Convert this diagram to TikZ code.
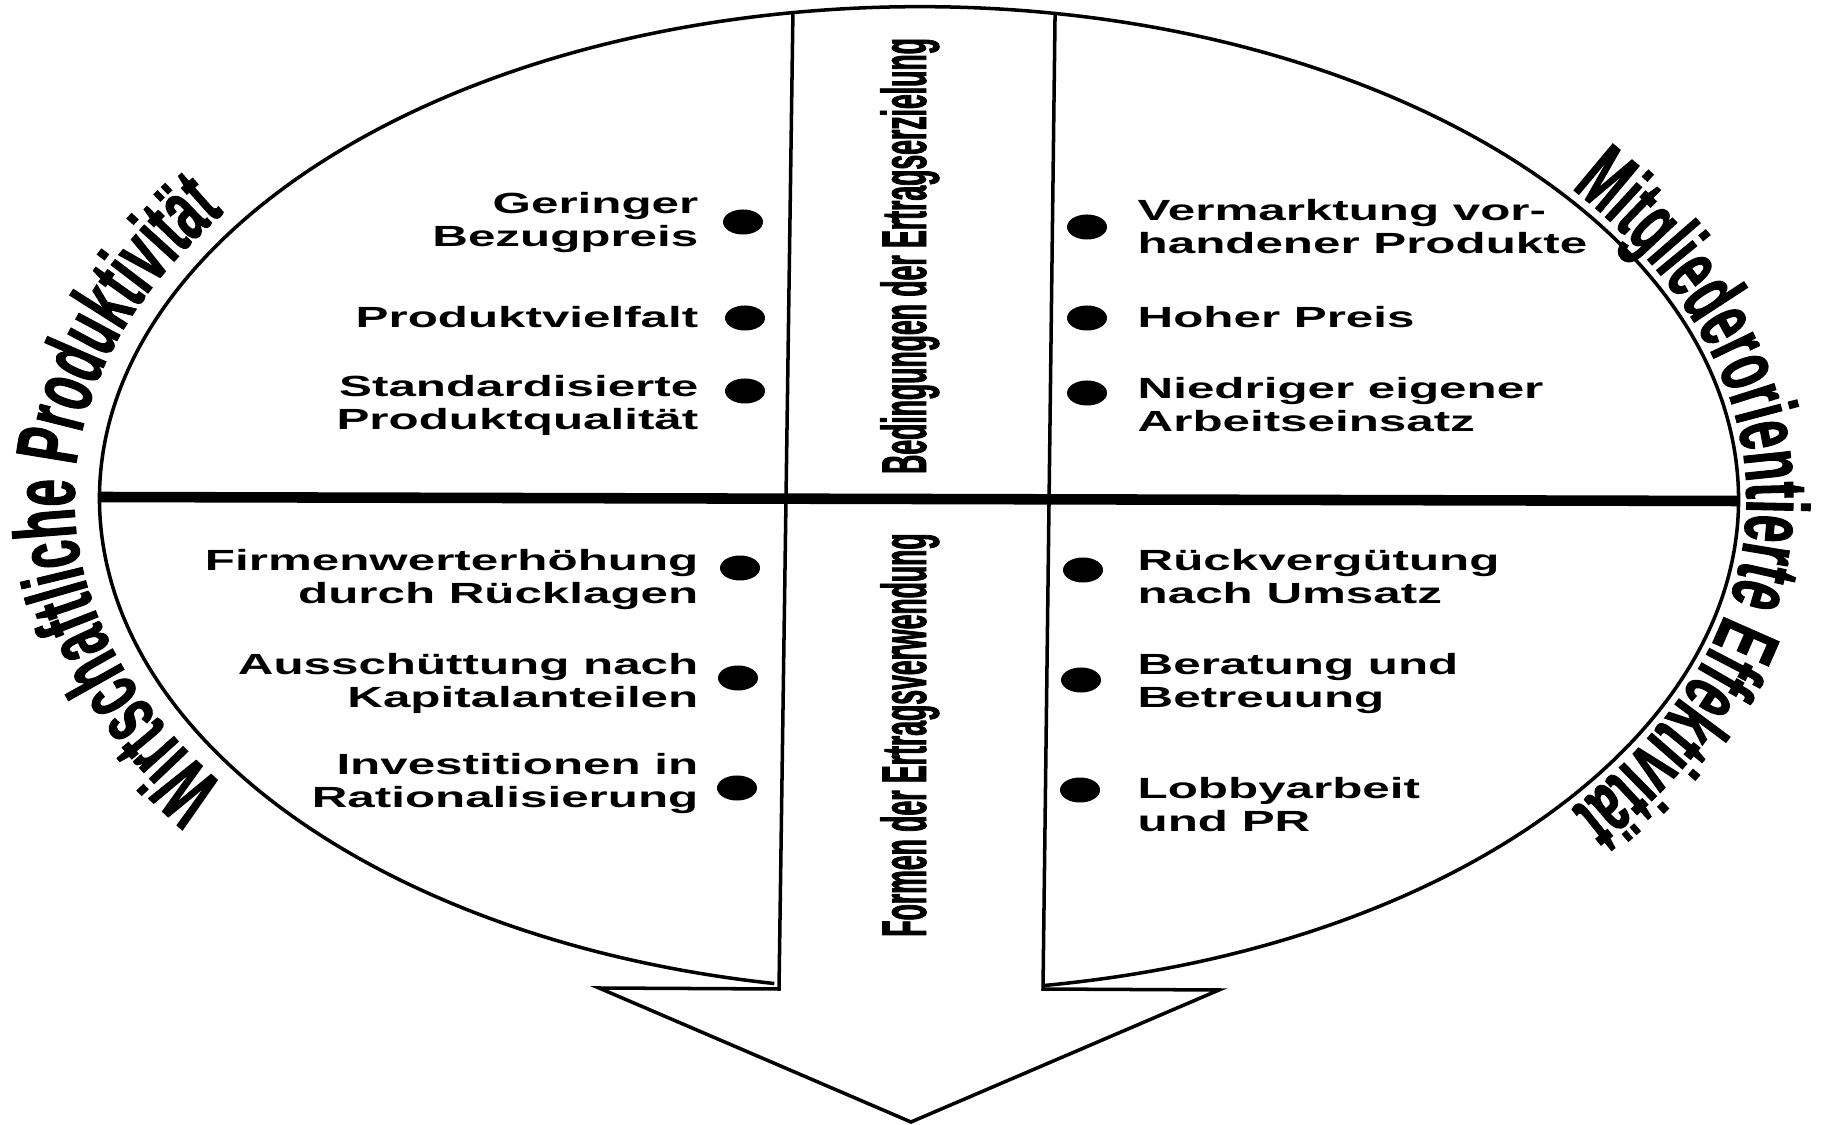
\documentclass[tikz,border=0pt]{standalone}
\usepackage{fontspec}
\usetikzlibrary{calc,decorations.text,shapes.geometric}
\newfontfamily\labfont[FakeStretch=1.69]{Liberation Sans}
\newfontfamily\colfont[FakeStretch=0.42,FakeBold=1.2]{Liberation Sans}
\newfontfamily\arcfont[FakeStretch=0.56,FakeBold=1.2]{Liberation Sans}
\tikzset{
  lab/.style={font=\labfont\bfseries\fontsize{8.3pt}{9.4pt}\selectfont, inner sep=0pt},
  labL/.style={lab, align=right, anchor=base east},
  labR/.style={lab, align=left, anchor=base west},
  bul/.style={ellipse, fill=black, minimum width=0.4cm, minimum height=0.25cm, inner sep=0pt},
  coltext/.style={font=\colfont\bfseries\fontsize{18pt}{18pt}\selectfont, rotate=90, anchor=base, inner sep=0pt},
  outline/.style={line width=1pt, line join=miter},
}
\begin{document}
\begin{tikzpicture}[x=0.01cm,y=0.01cm]
\useasboundingbox (0,0) rectangle (1824,1124);
\coordinate (C) at (919,625);
% ellipse
\draw[outline] ($(C)+(-81.29:8.19cm and 4.92cm)$) arc[start angle=-81.29, end angle=259.83, x radius=8.19cm, y radius=4.92cm];
% columns and arrow
\coordinate (TL) at ($(C)+(98.85:8.19cm and 4.92cm)$);
\coordinate (TR) at ($(C)+(80.44:8.19cm and 4.92cm)$);
\coordinate (BL) at (779,135);
\coordinate (BR) at (1043,135);
\coordinate (AL) at (599,136);
\coordinate (AR) at (1219,134);
\coordinate (tip) at (911,2);
\draw[outline] (TL) -- (BL) -- (AL) -- (tip) -- (AR) -- (BR) -- (TR);
% horizontal divider
\coordinate (HL) at (100,627);
\coordinate (HR) at (1738,623);
\draw[line width=3pt] (HL) -- (HR);
% column texts
\node[coltext] (top) at (926,868) {Bedingungen der Ertragserzielung};
\node[coltext] (bot) at (926,389) {Formen der Ertragsverwendung};
% curved texts
\path[decorate, decoration={text along path, text align=center,
  text={|\arcfont\bfseries\fontsize{25pt}{25pt}\selectfont|Wirtschaftliche Produktivität}}]
  ($(C)+(240:8.44cm and 5.04cm)$) arc[start angle=240, end angle=120, x radius=8.44cm, y radius=5.04cm];
\path[decorate, decoration={text along path, text align=center,
  text={|\arcfont\bfseries\fontsize{25pt}{25pt}\selectfont|Mitgliederorientierte Effektivität}}]
  ($(C)+(60:8.27cm and 5.04cm)$) arc[start angle=60, end angle=-60, x radius=8.27cm, y radius=5.04cm];
% bullets
\node[bul] (bl1) at (743,902) {};
\node[bul] (bl2) at (745,806) {};
\node[bul] (bl3) at (745,733) {};
\node[bul] (bl4) at (740,556) {};
\node[bul] (bl5) at (738,446) {};
\node[bul] (bl6) at (737,336) {};
\node[bul] (br1) at (1087,897) {};
\node[bul] (br2) at (1087,806) {};
\node[bul] (br3) at (1087,731) {};
\node[bul] (br4) at (1083,554) {};
\node[bul] (br5) at (1081,444) {};
\node[bul] (br6) at (1080,334) {};
% labels left (anchor = baseline of last line)
\node[labL] (l1) at (699,877) {Geringer\\Bezugpreis};
\node[labL] (l2) at (699,796) {Produktvielfalt};
\node[labL] (l3) at (699,694) {Standardisierte\\Produktqualität};
\node[labL] (l4) at (699,520) {Firmenwerterhöhung\\durch Rücklagen};
\node[labL] (l5) at (699,416) {Ausschüttung nach\\Kapitalanteilen};
\node[labL] (l6) at (699,316) {Investitionen in\\Rationalisierung};
% labels right
\node[labR] (r1) at (1137,870) {Vermarktung vor-\\handener Produkte};
\node[labR] (r2) at (1137,796) {Hoher Preis};
\node[labR] (r3) at (1137,692) {Niedriger eigener\\Arbeitseinsatz};
\node[labR] (r4) at (1137,520) {Rückvergütung\\nach Umsatz};
\node[labR] (r5) at (1137,416) {Beratung und\\Betreuung};
\node[labR] (r6) at (1137,292) {Lobbyarbeit\\und PR};
\end{tikzpicture}
\end{document}
